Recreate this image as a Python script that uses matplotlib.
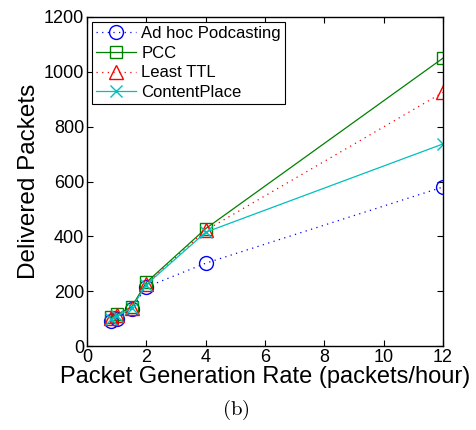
import matplotlib
matplotlib.use('Agg')
import matplotlib.pyplot as plt

plt.rcParams['font.family'] = ['Liberation Sans', 'DejaVu Sans']
plt.rcParams['mathtext.fontset'] = 'cm'

rate = [0.8, 1, 1.5, 2, 4, 12]
adhoc = [92, 100, 135, 215, 302, 580]
pcc = [105, 115, 142, 232, 428, 1050]
least_ttl = [102, 112, 140, 226, 422, 925]
content_place = [98, 108, 138, 224, 415, 737]

dots = (0, (1, 3.5))

fig = plt.figure(figsize=(4.76, 4.30), dpi=100)
ax = fig.add_axes([0.1828, 0.1953, 0.7479, 0.7652])

ax.plot(rate, adhoc, linestyle=dots, color='blue', marker='o', mfc='none', ms=10, lw=0.9, label='Ad hoc Podcasting')
ax.plot(rate, pcc, '-', color='green', marker='s', mfc='none', ms=9, lw=0.9, label='PCC')
ax.plot(rate, least_ttl, linestyle=dots, color='red', marker='^', mfc='none', ms=10, lw=0.9, label='Least TTL')
ax.plot(rate, content_place, '-', color='c', marker='x', mfc='none', ms=8, lw=0.9, label='ContentPlace')

ax.set_xlim(0, 12)
ax.set_ylim(0, 1200)
ax.set_xticks([0, 2, 4, 6, 8, 10, 12])
ax.set_yticks([0, 200, 400, 600, 800, 1000, 1200])
ax.tick_params(direction='in', top=True, right=True, labelsize=13, length=4, pad=2)
for s in ax.spines.values():
    s.set_linewidth(1.0)

ax.set_xlabel('Packet Generation Rate (packets/hour)', fontsize=17, labelpad=0)
ax.set_ylabel('Delivered Packets', fontsize=17.5, labelpad=3)

leg = ax.legend(loc='upper left', fontsize=12, fancybox=False, framealpha=1,
                edgecolor='black', borderaxespad=0.3, handlelength=2.4,
                labelspacing=0.28, borderpad=0.25, handletextpad=0.3)
leg.get_frame().set_linewidth(0.8)

fig.text(0.495, 0.035, r'$\mathrm{(b)}$', fontsize=15, ha='center', va='baseline')

fig.savefig('out.png', dpi=100)
